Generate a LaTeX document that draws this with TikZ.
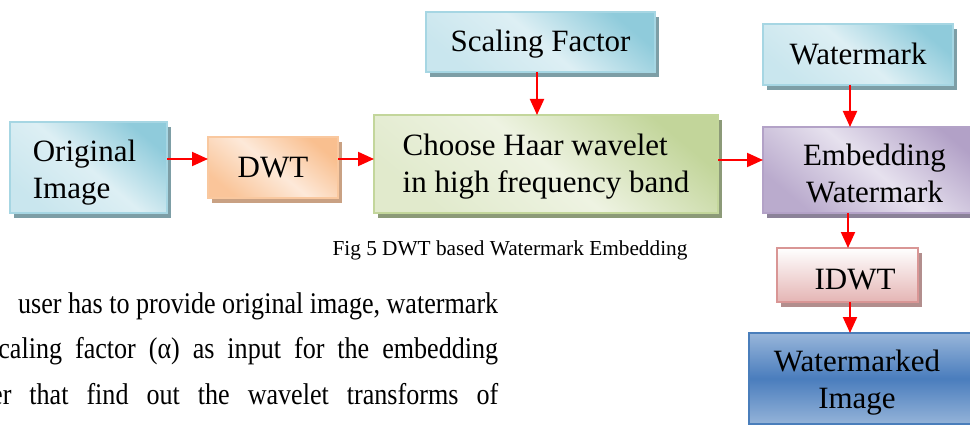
\documentclass[tikz,border=0pt]{standalone}
\usepackage{fontspec}
\setmainfont{Liberation Serif}
\newfontfamily\bodyfont[FakeStretch=0.87]{Liberation Serif}
\usetikzlibrary{arrows.meta}
\definecolor{blueD}{HTML}{8FCBDB}
\definecolor{blueL}{HTML}{DDEFF4}
\definecolor{blueB}{HTML}{A6D6E3}
\definecolor{blueS}{HTML}{7D9EA6}
\definecolor{orD}{HTML}{F9BF8F}
\definecolor{orL}{HTML}{FDE9D9}
\definecolor{orB}{HTML}{F9C89F}
\definecolor{orS}{HTML}{C9A183}
\definecolor{grD}{HTML}{C2D59A}
\definecolor{grL}{HTML}{EEF3E2}
\definecolor{grB}{HTML}{C3D69B}
\definecolor{grS}{HTML}{8C9A78}
\definecolor{puD}{HTML}{B2A1C7}
\definecolor{puL}{HTML}{E6E1EE}
\definecolor{puB}{HTML}{B3A2C7}
\definecolor{puS}{HTML}{8B8298}
\definecolor{pkT}{HTML}{FFFFFF}
\definecolor{pkD}{HTML}{E4B5B4}
\definecolor{pkB}{HTML}{D99695}
\definecolor{pkS}{HTML}{B28E8D}
\definecolor{wbL}{HTML}{98B6DA}
\definecolor{wbD}{HTML}{4A7DBD}
\definecolor{wbB}{HTML}{4A7EBB}
\tikzset{
  box/.style={rectangle, inner sep=0pt, outer sep=0pt, line width=1.5pt,
    font=\fontsize{31}{37}\selectfont},
  shadowed/.style={preaction={fill=#1, transform canvas={shift={(4pt,-5pt)}}}},
  diag/.style n args={3}{top color=#1, bottom color=#3, middle color=#2, shading angle=-40},
  bluebox/.style={box, draw=blueB, shadowed=blueS, diag={blueD}{blueL}{blueL!75!blueD}},
  orbox/.style={box, draw=orB, shadowed=orS, diag={orD}{orL}{orD!85!orL}},
  grbox/.style={box, draw=grB, shadowed=grS, diag={grD}{grL}{grL!70!grD}},
  pubox/.style={box, draw=puB, shadowed=puS, diag={puD}{puL}{puD!85!puL}},
  pkbox/.style={box, draw=pkB, shadowed=pkS, top color=pkT, bottom color=pkD},
  wbbox/.style={box, draw=wbB, shadowed=wbB!70!black, top color=wbL, bottom color=wbL!95!wbD, middle color=wbD},
  arr/.style={draw=red, line width=2pt, -{Triangle[length=16pt,width=14pt]}},
  bodytext/.style={anchor=base west, inner sep=0pt, font=\bodyfont\fontsize{30}{36}\selectfont},
}
\begin{document}
\begin{tikzpicture}[x=1pt,y=-1pt]
\useasboundingbox (0,0) rectangle (970,425);
\fill[white] (0,0) rectangle (970,425);
\clip (0,0) rectangle (970,425);

\node[bluebox, minimum width=157pt, minimum height=91pt, align=left] (orig) at (88.5,167.5)
  {\rule{0pt}{34pt}Original\hspace*{8pt}\\Image\rule[-8pt]{0pt}{8pt}};
\node[orbox, minimum width=130pt, minimum height=61pt] (dwt) at (273,167.5)
  {\rule[-8pt]{0pt}{37pt}DWT};
\node[bluebox, minimum width=229pt, minimum height=60pt] (sf) at (540.5,42)
  {\rule[-8pt]{0pt}{36pt}Scaling Factor};
\node[grbox, minimum width=344pt, minimum height=98pt, align=left] (choose) at (546,164)
  {\rule{0pt}{28pt}Choose Haar wavelet\\in high frequency band\rule[-8pt]{0pt}{8pt}};
\node[bluebox, minimum width=190pt, minimum height=61pt] (wm) at (858,54.5)
  {\rule[-8pt]{0pt}{37pt}Watermark};
\node[pubox, minimum width=223pt, minimum height=86pt, align=center] (emb) at (874.5,170)
  {\rule{0pt}{37pt}Embedding\\Watermark\rule[-8pt]{0pt}{8pt}};
\node[pkbox, minimum width=141pt, minimum height=54pt] (idwt) at (847.5,275)
  {\hspace*{15pt}\rule[-8pt]{0pt}{44pt}IDWT};
\node[wbbox, minimum width=236pt, minimum height=91pt, align=center] (wmi) at (867,378.5)
  {\rule{0pt}{31pt}Watermarked\hspace*{20pt}\\Image\hspace*{20pt}\rule[-8pt]{0pt}{8pt}};

\draw[arr] (orig.east |- 0,159) -- (dwt.west |- 0,159);
\draw[arr] (dwt.east |- 0,159) -- (choose.west |- 0,159);
\draw[arr] (537,0 |- sf.south) -- (537,0 |- choose.north);
\draw[arr] (choose.east |- 0,160) -- (emb.west |- 0,160);
\draw[arr] (850,0 |- wm.south) -- (850,0 |- emb.north);
\draw[arr] (848,0 |- emb.south) -- (848,0 |- idwt.north);
\draw[arr] (850,0 |- idwt.south) -- (850,0 |- wmi.north);

\node[anchor=base, inner sep=0pt, font=\fontsize{21.3}{25}\selectfont] (cap) at (510,255)
  {Fig 5 DWT based Watermark Embedding};

\node[bodytext] (l1) at (18,313) {\makebox[480pt][s]{user has to provide original image, watermark}};
\node[bodytext] (l2) at (-12,358) {\makebox[510pt][s]{scaling factor (α) as input for the embedding}};
\node[bodytext] (l3) at (-9,404) {\makebox[507pt][s]{er that find out the wavelet transforms of}};
\end{tikzpicture}
\end{document}
